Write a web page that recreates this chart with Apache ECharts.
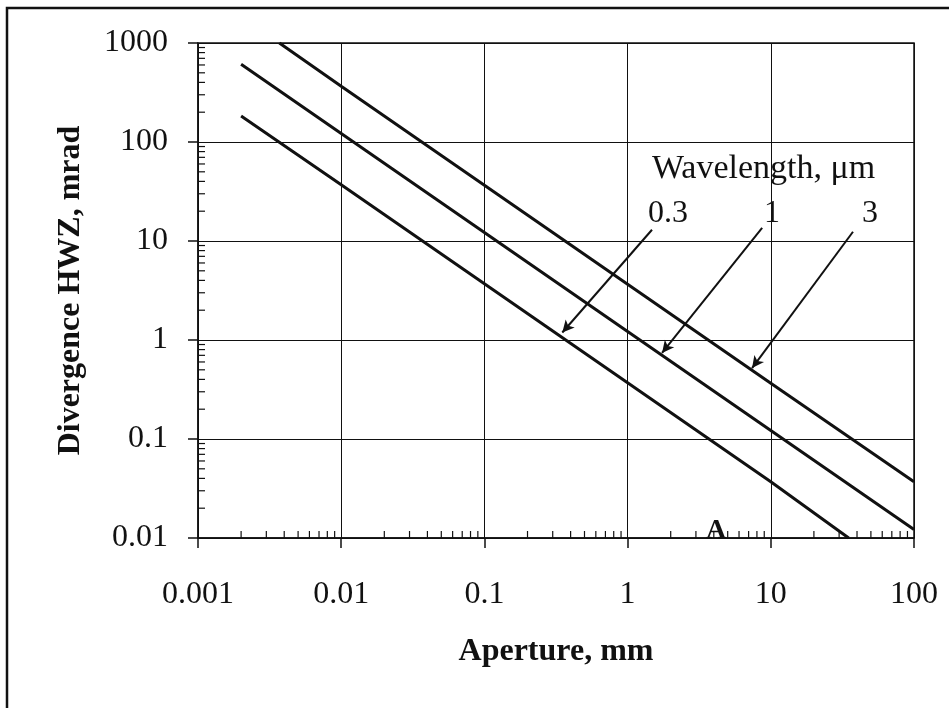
<!DOCTYPE html>
<html>
<head>
<meta charset="utf-8">
<script src="https://cdn.jsdelivr.net/npm/echarts@6/dist/echarts.min.js"></script>
<style>
  html, body { margin: 0; padding: 0; background: #fff; }
  #main { width: 949px; height: 708px; }
</style>
</head>
<body>
<div id="main"></div>
<script>
  // values (aperture mm, divergence mrad)
  var aperture03 = [0.002, 0.01, 0.1, 1, 10, 35];
  var div03 = [183, 37, 3.7, 0.37, 0.037, 0.01];
  var aperture1 = [0.002, 0.01, 0.1, 1, 10, 100];
  var div1 = [610, 122, 12.2, 1.22, 0.122, 0.0122];
  var aperture3 = [0.0037, 0.01, 0.1, 1, 10, 100];
  var div3 = [1000, 366, 36.6, 3.66, 0.366, 0.037];
  var wavelengths = ['0.3', '1', '3'];
  var xTickLabels = ['0.001', '0.01', '0.1', '1', '10', '100'];
  var yTickLabels = ['0.01', '0.1', '1', '10', '100', '1000'];

  var FONT = "'Liberation Serif', 'Times New Roman', serif";

  function pairs(xs, ys) {
    return xs.map(function (x, i) { return [x, ys[i]]; });
  }

  // minor ticks 2..9 per decade
  var xMinor = [], yMinor = [];
  for (var e = -3; e < 2; e++) {
    for (var m = 2; m <= 9; m++) xMinor.push([m * Math.pow(10, e), 0.01]);
  }
  for (var e2 = -2; e2 < 3; e2++) {
    for (var m2 = 2; m2 <= 9; m2++) yMinor.push([0.001, m2 * Math.pow(10, e2)]);
  }

  function lineSeries(name, xs, ys, extra) {
    var s = {
      name: name,
      type: 'line',
      data: pairs(xs, ys),
      showSymbol: false,
      symbol: 'none',
      lineStyle: { color: '#111', width: 3 },
      z: 5,
      silent: true
    };
    if (extra) s.markLine = extra;
    return s;
  }

  var arrowStyle = { color: '#111', width: 2, type: 'solid' };
  var arrows = {
    silent: true,
    symbol: ['none', 'arrow'],
    symbolSize: [9, 12],
    label: { show: false },
    lineStyle: arrowStyle,
    animation: false,
    data: [
      [{ coord: [1.48, 13.0] }, { coord: [0.35, 1.19] }],
      [{ coord: [8.7, 13.6] }, { coord: [1.74, 0.74] }],
      [{ coord: [37.5, 12.4] }, { coord: [7.4, 0.52] }]
    ]
  };

  var chart = echarts.init(document.getElementById('main'));
  chart.setOption({
    animation: false,
    backgroundColor: '#fff',
    grid: {
      left: 198, top: 43, right: 35, bottom: 170,
      show: true, borderColor: '#111', borderWidth: 1.5
    },
    xAxis: {
      type: 'log', logBase: 10, min: 0.001, max: 100,
      name: 'Aperture, mm', nameLocation: 'middle', nameGap: 98,
      nameTextStyle: { fontFamily: FONT, fontSize: 32, fontWeight: 'bold', color: '#111' },
      axisLine: { lineStyle: { color: '#111', width: 1.5 } },
      axisTick: { show: true, inside: false, length: 10, lineStyle: { color: '#111', width: 1.5 } },
      splitLine: { show: true, lineStyle: { color: '#111', width: 1 } },
      minorTick: { show: false },
      axisLabel: {
        margin: 41, fontFamily: FONT, fontSize: 32, color: '#111',
        formatter: function (v) { return xTickLabels[Math.round(Math.log10(v)) + 3]; }
      }
    },
    yAxis: {
      type: 'log', logBase: 10, min: 0.01, max: 1000,
      name: 'Divergence HWZ, mrad', nameLocation: 'middle', nameGap: 111,
      nameTextStyle: { fontFamily: FONT, fontSize: 32, fontWeight: 'bold', color: '#111' },
      axisLine: { lineStyle: { color: '#111', width: 1.5 } },
      axisTick: { show: true, inside: false, length: 10, lineStyle: { color: '#111', width: 1.5 } },
      splitLine: { show: true, lineStyle: { color: '#111', width: 1 } },
      axisLabel: {
        margin: 30, fontFamily: FONT, fontSize: 32, color: '#111',
        formatter: function (v) { return yTickLabels[Math.round(Math.log10(v)) + 2]; }
      }
    },
    series: [
      lineSeries(wavelengths[0], aperture03, div03, arrows),
      lineSeries(wavelengths[1], aperture1, div1),
      lineSeries(wavelengths[2], aperture3, div3),
      {
        type: 'custom', silent: true, clip: false, z: 4,
        data: xMinor,
        renderItem: function (params, api) {
          var p = api.coord([api.value(0), api.value(1)]);
          return { type: 'line', shape: { x1: p[0], y1: p[1], x2: p[0], y2: p[1] - 7 },
                   style: { stroke: '#111', lineWidth: 1.2 } };
        }
      },
      {
        type: 'custom', silent: true, clip: false, z: 4,
        data: yMinor,
        renderItem: function (params, api) {
          var p = api.coord([api.value(0), api.value(1)]);
          return { type: 'line', shape: { x1: p[0], y1: p[1], x2: p[0] + 7, y2: p[1] },
                   style: { stroke: '#111', lineWidth: 1.2 } };
        }
      }
    ],
    graphic: [
      { type: 'rect', silent: true, shape: { x: 7, y: 8, width: 980, height: 740 },
        style: { fill: 'none', stroke: '#111', lineWidth: 2.5 } },
      { type: 'text', silent: true, x: 652, y: 169,
        style: { text: 'Wavelength, μm', font: '34px ' + FONT, fill: '#111', verticalAlign: 'middle' } },
      { type: 'text', silent: true, x: 648, y: 214,
        style: { text: wavelengths[0], font: '32px ' + FONT, fill: '#111', verticalAlign: 'middle' } },
      { type: 'text', silent: true, x: 772, y: 214,
        style: { text: wavelengths[1], font: '32px ' + FONT, fill: '#111', align: 'center', verticalAlign: 'middle' } },
      { type: 'text', silent: true, x: 870, y: 214,
        style: { text: wavelengths[2], font: '32px ' + FONT, fill: '#111', align: 'center', verticalAlign: 'middle' } },
      { type: 'text', silent: true, x: 716, y: 531, z: 10,
        style: { text: 'A', font: 'bold 28px ' + FONT, fill: '#111', align: 'center', verticalAlign: 'middle' } }
    ]
  });
</script>
</body>
</html>
